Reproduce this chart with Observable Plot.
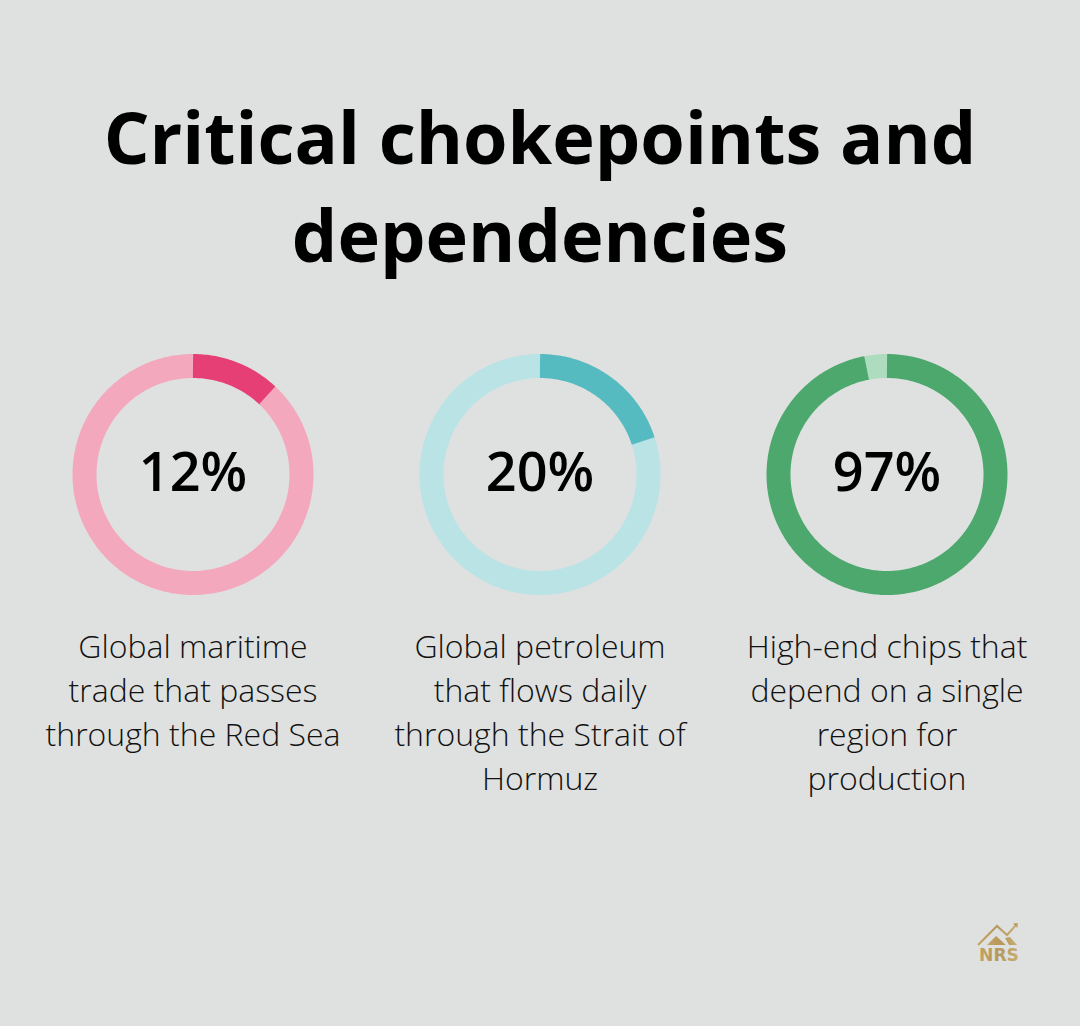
<!DOCTYPE html>
<html>
<head>
<meta charset="utf-8">
<script src="https://cdn.jsdelivr.net/npm/d3@7"></script>
<script src="https://cdn.jsdelivr.net/npm/@observablehq/plot@0.6"></script>
<style>
  html, body { margin: 0; padding: 0; background: #dfe1e0; }
  #page { position: relative; width: 1080px; height: 1026px; overflow: hidden; font-family: "Open Sans", sans-serif; }
  #title { position: absolute; top: 87px; left: 0; width: 1080px; text-align: center; font-size: 72px; font-weight: 700; line-height: 98px; color: #000; margin: 0; }
  #chart { position: absolute; top: 320px; left: 0; }
  #chart svg { display: block; background: transparent; }
  #logo { position: absolute; left: 970px; top: 918px; }
</style>
</head>
<body>
<div id="page">
  <h1 id="title">Critical chokepoints and<br>dependencies</h1>
  <div id="chart"></div>
  <svg id="logo" width="58" height="50" viewBox="0 0 58 50">
    <defs><linearGradient id="gold" x1="0" y1="0" x2="1" y2="0">
      <stop offset="0" stop-color="#c4a15f"/><stop offset="0.5" stop-color="#b6985c"/><stop offset="1" stop-color="#c9ad73"/>
    </linearGradient></defs>
    <path d="M8 27 L27 8 L37 17 L46 7" fill="none" stroke="url(#gold)" stroke-width="2"/>
    <path d="M43 5.5 L48 5 L47.5 10 Z" fill="url(#gold)"/>
    <path d="M17 27 L26 18 L36 27 Z M35 20 L40 19 L47 27 L39 27 Z" fill="url(#gold)"/>
    <text x="29" y="43" text-anchor="middle" font-family="DejaVu Sans, sans-serif" font-weight="700" font-size="17" textLength="40" lengthAdjust="spacingAndGlyphs" fill="url(#gold)">NRS</text>
  </svg>
</div>
<script>
const names = ["Red Sea", "Hormuz", "Chips"];
const percents = [12, 20, 97];
const centerLabels = ["12%", "20%", "97%"];
const descriptions = [
  "Global maritime\ntrade that passes\nthrough the Red Sea",
  "Global petroleum\nthat flows daily\nthrough the Strait of\nHormuz",
  "High-end chips that\ndepend on a single\nregion for\nproduction"
];
const valueColors = ["#e63f76", "#56bbc1", "#4ca86d"];
const restColors = ["#f3a8be", "#b9e3e5", "#aedcbf"];

// Each ring is a thick line around the unit circle, split at the value's share of a turn.
function arcPoints(name, part, color, fromPct, toPct) {
  const steps = Math.max(2, Math.ceil((toPct - fromPct) * 3.6));
  return d3.range(steps + 1).map(i => {
    const a = (fromPct + (toPct - fromPct) * i / steps) / 100 * 2 * Math.PI;
    return {name, part, color, x: Math.sin(a), y: Math.cos(a)};
  });
}
const ringPoints = names.flatMap((name, i) => [
  ...arcPoints(name, "rest", restColors[i], percents[i], 100),
  ...arcPoints(name, "value", valueColors[i], 0, percents[i])
]);
const rows = names.map((name, i) => ({name, label: centerLabels[i], description: descriptions[i]}));

const unit = 108.5;      // pixels per ring radius
const height = 520;
const ringTop = 154;     // ring centre, pixels from the top of the SVG

const plot = Plot.plot({
  width: 1080,
  height,
  marginLeft: 19.2,
  marginRight: 19.8,
  marginTop: 0,
  marginBottom: 0,
  style: {background: "transparent", fontFamily: "Open Sans, sans-serif"},
  fx: {domain: names, padding: 0, axis: null},
  x: {domain: [-173.5 / unit, 173.5 / unit], axis: null},
  y: {domain: [-(height - ringTop) / unit, ringTop / unit], axis: null},
  color: {type: "identity"},
  marks: [
    Plot.line(ringPoints, {
      fx: "name", x: "x", y: "y", z: "part", stroke: "color",
      strokeWidth: 24, strokeLinecap: "butt", strokeLinejoin: "round", curve: "linear"
    }),
    Plot.text(rows, {
      fx: "name", x: () => 0, y: () => 0, text: "label",
      fontSize: 54, fontWeight: 600, fill: "#000", textAnchor: "middle", dy: -1
    }),
    Plot.text(rows, {
      fx: "name", x: () => 0, y: () => -1.39, text: "description", dy: 1,
      lineAnchor: "top", lineHeight: 44 / 32, fontSize: 32, fontWeight: 300, fill: "#111", textAnchor: "middle"
    })
  ]
});
document.getElementById("chart").appendChild(plot);
</script>
</body>
</html>
